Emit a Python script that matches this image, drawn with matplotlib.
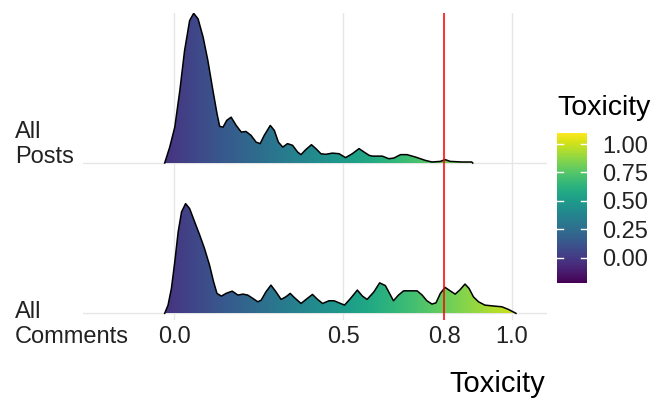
import matplotlib.pyplot as plt
import numpy as np
from matplotlib.colors import Normalize

plt.rcParams['font.family'] = ['Liberation Sans', 'DejaVu Sans']

# ridge rows, bottom to top
categories = ['All\nComments', 'All\nPosts']

# density curves (x = toxicity, h = ridge height)
posts_x = [-0.029, -0.014, 0.001, 0.016, 0.030, 0.045, 0.057, 0.070, 0.085, 0.099,
           0.114, 0.126, 0.134, 0.144, 0.155, 0.168, 0.183, 0.198, 0.212, 0.227,
           0.242, 0.254, 0.266, 0.284, 0.296, 0.308, 0.321, 0.335, 0.350, 0.365,
           0.375, 0.389, 0.406, 0.419, 0.434, 0.448, 0.468, 0.488, 0.507, 0.527,
           0.547, 0.562, 0.577, 0.587, 0.616, 0.635, 0.650, 0.670, 0.689, 0.714,
           0.743, 0.763, 0.788, 0.802, 0.817, 0.852, 0.881, 0.884]
posts_h = [0.0, 0.106, 0.239, 0.483, 0.748, 0.948, 0.996, 0.959, 0.837, 0.682,
           0.483, 0.330, 0.244, 0.239, 0.284, 0.305, 0.250, 0.206, 0.210, 0.184,
           0.139, 0.129, 0.184, 0.250, 0.217, 0.139, 0.106, 0.129, 0.118, 0.073,
           0.056, 0.089, 0.122, 0.096, 0.062, 0.058, 0.066, 0.062, 0.036, 0.062,
           0.096, 0.073, 0.051, 0.046, 0.046, 0.029, 0.033, 0.056, 0.056, 0.040,
           0.018, 0.007, 0.011, 0.023, 0.011, 0.007, 0.007, 0.0]

comments_x = [-0.029, -0.019, -0.009, 0.001, 0.011, 0.021, 0.033, 0.045, 0.060, 0.075,
              0.089, 0.104, 0.116, 0.126, 0.139, 0.153, 0.171, 0.188, 0.203, 0.217,
              0.232, 0.247, 0.257, 0.271, 0.286, 0.301, 0.316, 0.330, 0.343, 0.355,
              0.375, 0.394, 0.409, 0.424, 0.439, 0.458, 0.473, 0.488, 0.504, 0.522,
              0.542, 0.557, 0.571, 0.591, 0.608, 0.625, 0.640, 0.649, 0.664, 0.679,
              0.694, 0.719, 0.734, 0.748, 0.763, 0.775, 0.788, 0.802, 0.817, 0.832,
              0.847, 0.861, 0.873, 0.886, 0.901, 0.920, 0.950, 0.970, 0.989, 1.009,
              1.012]
comments_h = [0.0, 0.055, 0.166, 0.343, 0.542, 0.675, 0.730, 0.697, 0.608, 0.520,
              0.432, 0.321, 0.210, 0.133, 0.115, 0.133, 0.148, 0.122, 0.128, 0.122,
              0.100, 0.077, 0.088, 0.143, 0.188, 0.143, 0.093, 0.110, 0.133, 0.106,
              0.066, 0.100, 0.126, 0.093, 0.066, 0.084, 0.084, 0.070, 0.055, 0.100,
              0.155, 0.115, 0.093, 0.143, 0.203, 0.185, 0.122, 0.084, 0.122, 0.150,
              0.150, 0.150, 0.122, 0.084, 0.062, 0.070, 0.133, 0.173, 0.150, 0.128,
              0.159, 0.195, 0.166, 0.110, 0.077, 0.055, 0.048, 0.044, 0.027, 0.004,
              0.0]

x_breaks = [0.0, 0.5, 0.8, 1.0]
x_labels = ['0.0', '0.5', '0.8', '1.0']
threshold = 0.8
cbar_ticks = [0.0, 0.25, 0.5, 0.75, 1.0]
cbar_labels = ['0.00', '0.25', '0.50', '0.75', '1.00']
fill_min, fill_max = -0.222, 1.10

W, H = 660, 399
fig = plt.figure(figsize=(W / 100, H / 100), dpi=100)
ax = fig.add_axes([83 / W, 1 - 320 / H, 464 / W, 307.3 / H])
norm = Normalize(vmin=fill_min, vmax=fill_max)


def draw_ridge(ax, xs, hs, base):
    xs = np.asarray(xs)
    ys = base + np.asarray(hs)
    poly = ax.fill_between(xs, base, ys, facecolor='none', edgecolor='none')
    grad = np.linspace(xs.min(), xs.max(), 500)[None, :]
    im = ax.imshow(grad, cmap='viridis', norm=norm, aspect='auto', origin='lower',
                   extent=(xs.min(), xs.max(), base, ys.max()),
                   interpolation='bilinear', zorder=2)
    im.set_clip_path(poly.get_paths()[0], transform=ax.transData)
    ax.plot(xs, ys, color='black', lw=1.1, zorder=3, solid_joinstyle='round')


draw_ridge(ax, comments_x, comments_h, 1)
draw_ridge(ax, posts_x, posts_h, 2)
ax.axvline(threshold, color='red', lw=1.1, zorder=4)

ax.set_xlim(-0.271, 1.104)
ax.set_ylim(0.956, 3.0)
ax.set_xticks(x_breaks)
ax.set_xticklabels(x_labels)
ax.set_yticks([1, 2])
ax.set_yticklabels([])
ax.grid(True, color='#e6e6e6', lw=1.0)
ax.set_axisbelow(True)
for s in ax.spines.values():
    s.set_visible(False)
ax.tick_params(length=0, labelsize=17, labelcolor='#222222', pad=4)

# ridge labels, written line by line at the left edge
label_pos = [(15, 318), (15, 138)]
for cat, (px, py) in zip(categories, label_pos):
    for k, line in enumerate(cat.split('\n')):
        fig.text(px / W, 1 - (py + 25 * k) / H, line, fontsize=17,
                 color='#222222', ha='left', va='baseline')

fig.text(545 / W, 1 - 391.7 / H, 'Toxicity', fontsize=21, ha='right', va='baseline')

# colour bar legend
cax = fig.add_axes([557 / W, 1 - 282.7 / H, 30 / W, 150 / H])
sm = plt.cm.ScalarMappable(norm=norm, cmap='viridis')
cb = fig.colorbar(sm, cax=cax)
cb.outline.set_visible(False)
cb.set_ticks(cbar_ticks)
cb.set_ticklabels(cbar_labels)
cax.tick_params(length=0, labelsize=17, labelcolor='#222222', pad=11)
tr = cax.get_yaxis_transform()
for t in cbar_ticks:
    cax.plot([0, 0.2], [t, t], color='white', lw=1, transform=tr)
    cax.plot([0.8, 1.0], [t, t], color='white', lw=1, transform=tr)
fig.text(557.7 / W, 1 - 115 / H, 'Toxicity', fontsize=20.5, ha='left', va='baseline')

fig.savefig('out.png', dpi=100, facecolor='white')
